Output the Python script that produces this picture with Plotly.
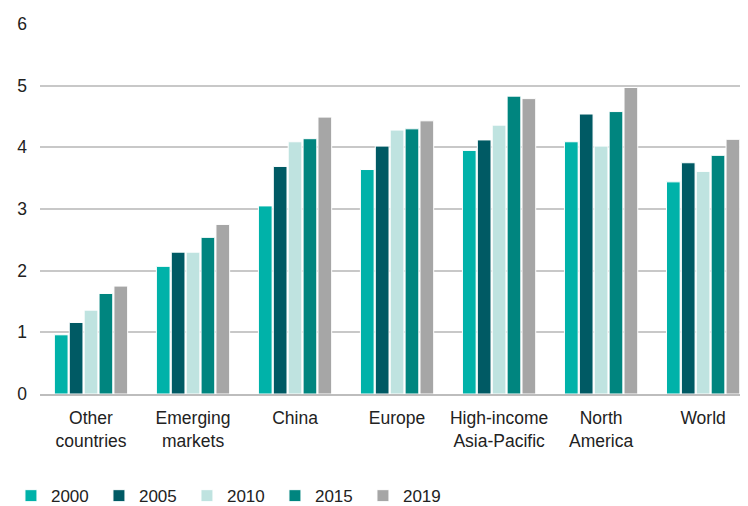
import plotly.graph_objects as go

categories = ["Other<br>countries", "Emerging<br>markets", "China", "Europe",
              "High-income<br>Asia-Pacific", "North<br>America", "World"]
years = ["2000", "2005", "2010", "2015", "2019"]
v2000 = [0.96, 2.07, 3.05, 3.64, 3.95, 4.09, 3.44]
v2005 = [1.16, 2.30, 3.69, 4.02, 4.12, 4.54, 3.75]
v2010 = [1.36, 2.30, 4.09, 4.28, 4.36, 4.02, 3.61]
v2015 = [1.63, 2.54, 4.14, 4.30, 4.83, 4.58, 3.87]
v2019 = [1.75, 2.75, 4.49, 4.43, 4.79, 4.97, 4.13]
series = [v2000, v2005, v2010, v2015, v2019]
colors = ["#00B2A9", "#005A64", "#BFE3E0", "#00857F", "#A6A6A6"]

font = "Liberation Sans, Arial, sans-serif"
fig = go.Figure()
for name, vals, c in zip(years, series, colors):
    fig.add_trace(go.Bar(x=categories, y=vals, name=name,
                         marker=dict(color=c, line=dict(color="white", width=1))))

fig.update_layout(
    width=740, height=498,
    margin=dict(l=32, r=0, t=16, b=112, autoexpand=False),
    paper_bgcolor="white", plot_bgcolor="white",
    barmode="group", bargap=0.27, bargroupgap=0.08,
    font=dict(family=font, size=17, color="#222222"),
    showlegend=True,
    legend=dict(orientation="h", xref="container", yref="paper",
                x=0.004, y=-0.276, xanchor="left", yanchor="middle",
                font=dict(size=17, color="#222222"),
                entrywidth=43, entrywidthmode="pixels", itemwidth=30,
                traceorder="normal"),
)
fig.update_xaxes(range=[-0.5, 6.44], showgrid=False, showline=True,
                 linecolor="#BDBDBD", linewidth=2, ticks="", automargin=False,
                 ticklabelstandoff=7,
                 tickfont=dict(size=17.5, color="#222222"))
fig.update_yaxes(range=[0, 6], dtick=1, showgrid=True, gridcolor="#C8C8C8",
                 gridwidth=1.5, zeroline=False, showline=False, ticks="",
                 automargin=False, ticklabelstandoff=12,
                 tickfont=dict(size=17.5, color="#222222"))

fig.write_html("out.html")
